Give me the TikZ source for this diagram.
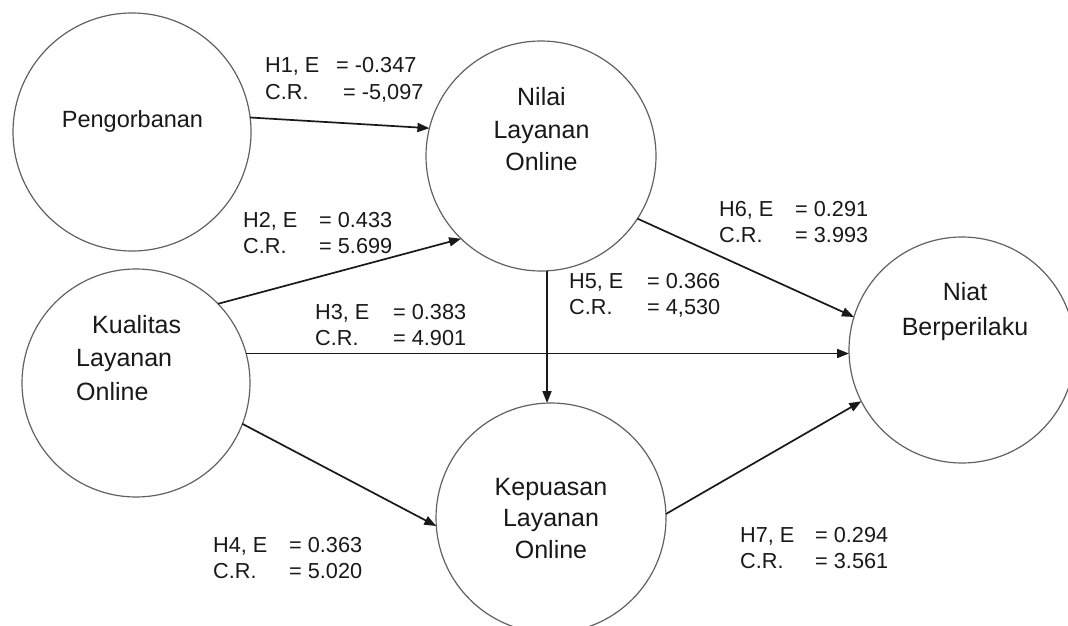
\documentclass[tikz,border=0pt]{standalone}
\usepackage{fontspec}
\setmainfont{Liberation Sans}
\usetikzlibrary{arrows.meta}
\newcommand\hyp[6]{\begin{tabular}[t]{@{}l@{}}\makebox[#1pt][l]{#2}#3\\\makebox[#4pt][l]{#5}#6\end{tabular}}
\begin{document}
\begin{tikzpicture}[x=1pt,y=-1pt,
  lv/.style={circle, draw=black!62, line width=1.2pt, inner sep=0pt, outer sep=0pt, minimum size=#1},
  arr/.style={draw=black!90, line width=1.7pt, -{Triangle[length=12pt,width=9pt]}},
  lbl/.style={anchor=base west, inner sep=0pt, text=black!90, font=\fontsize{21.7}{26.5}\selectfont},
  ctxt/.style={inner sep=0pt, text=black!90, font=\fontsize{25}{33}\selectfont}
]
\useasboundingbox (0,0) rectangle (1068,626);
\clip (0,0) rectangle (1068,626);
\fill[white] (0,0) rectangle (1068,626);

% latent variables
\node[lv=238pt] (peng)  at (132,132) {};
\node[lv=230pt] (nilai) at (541,156) {};
\node[lv=228pt] (kual)  at (136,383) {};
\node[lv=230pt] (kep)   at (551,518) {};
\node[lv=226pt] (niat)  at (962,350) {};

% texts in the circles
\node[ctxt, font=\fontsize{23.5}{30}\selectfont, anchor=base] (pengT) at (132.5,127) {Pengorbanan};
\node[ctxt, anchor=base] (nilaiT) at (541.5,105) {\begin{tabular}[t]{@{}c@{}}Nilai\\Layanan\\Online\end{tabular}};
\node[ctxt, anchor=base west] (kualT) at (76,333) {\begin{tabular}[t]{@{}l@{}}\hspace{16pt}Kualitas\\[0pt]Layanan\\[1pt]Online\end{tabular}};
\node[ctxt, font=\fontsize{25}{31.5}\selectfont, anchor=base] (kepT) at (551,495) {\begin{tabular}[t]{@{}c@{}}Kepuasan\\Layanan\\Online\end{tabular}};
\node[ctxt, font=\fontsize{25}{35}\selectfont, anchor=base] (niatT) at (965,300) {\begin{tabular}[t]{@{}c@{}}Niat\\Berperilaku\end{tabular}};

% paths
\draw[arr] (peng.7) -- (nilai.166);
\draw[arr] (kual.44) -- (nilai.226);
\draw[arr] (kual.15) -- (kual.15 -| niat.west);
\draw[arr] (kual.-21) -- (kep.184);
\draw[arr] (nilai.-87) -- (nilai.-87 |- kep.north);
\draw[arr] (nilai.-33) -- (niat.163);
\draw[arr] (kep.2) -- (niat.207);

% path labels
\node[lbl] (h1) at (265,73)  {\hyp{71}{H1, E}{= -0.347}{78}{C.R.}{= -5,097}};
\node[lbl] (h2) at (243,227) {\hyp{76}{H2, E}{= 0.433}{76}{C.R.}{= 5.699}};
\node[lbl] (h3) at (315,319) {\hyp{78}{H3, E}{= 0.383}{78}{C.R.}{= 4.901}};
\node[lbl] (h4) at (213,552) {\hyp{76}{H4, E}{= 0.363}{76}{C.R.}{= 5.020}};
\node[lbl] (h5) at (569,288) {\hyp{78}{H5, E}{= 0.366}{78}{C.R.}{= 4,530}};
\node[lbl] (h6) at (719,216) {\hyp{76}{H6, E}{= 0.291}{76}{C.R.}{= 3.993}};
\node[lbl] (h7) at (740,542) {\hyp{75}{H7, E}{= 0.294}{75}{C.R.}{= 3.561}};
\end{tikzpicture}
\end{document}
